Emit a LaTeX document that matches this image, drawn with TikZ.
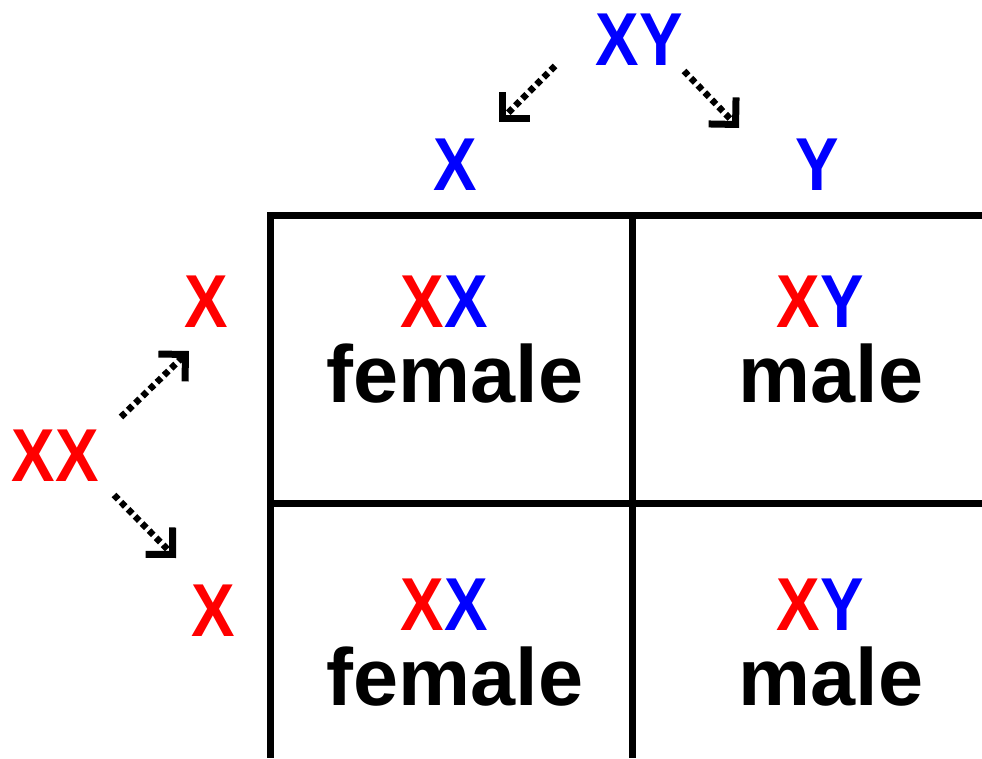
\documentclass[tikz,border=0pt]{standalone}
\usepackage{fontspec}
\usepackage{graphicx}
\setmainfont{Liberation Sans}
\usetikzlibrary{arrows.meta}
\definecolor{momred}{RGB}{255,0,0}
\definecolor{dadblue}{RGB}{0,0,255}
\newcommand{\gene}[1]{\scalebox{0.87}[1]{\fontsize{75}{75}\selectfont\bfseries #1}}
\newcommand{\mx}{{\color{momred}X}}
\newcommand{\dx}{{\color{dadblue}X}}
\newcommand{\dy}{{\color{dadblue}Y}}
\tikzset{
  allele/.style={inner sep=0pt, anchor=base},
  sexlabel/.style={inner sep=0pt, anchor=base, font=\fontsize{81}{81}\selectfont\bfseries},
  gridline/.style={line width=7pt},
  split/.style={line width=6.5pt, dash pattern=on 6pt off 4pt,
    -{Straight Barb[angle=90:27pt, line width=7pt, line cap=butt, line join=miter]}}
}
\begin{document}
\begin{tikzpicture}[x=1pt, y=-1pt]
\useasboundingbox (0,0) rectangle (982,758);

% Punnett grid (open on the right and bottom)
\draw[gridline] (982,215) -- (270,215) -- (270,758);
\draw[gridline] (632,215) -- (632,758);
\draw[gridline] (270,503) -- (982,503);

% father's genotype and gametes
\node[allele] (father) at (639,65) {\gene{\dx\dy}};
\node[allele] (fx) at (455,190) {\gene{\dx}};
\node[allele] (fy) at (817,190) {\gene{\dy}};

% mother's genotype and gametes
\node[allele] (mother) at (55,481) {\gene{\mx\mx}};
\node[allele] (mx1) at (206,327) {\gene{\mx}};
\node[allele] (mx2) at (213,636) {\gene{\mx}};

% arrows from parents to gametes
\coordinate (f1s) at (555,66);  \coordinate (f1e) at (499,122);
\coordinate (f2s) at (684,71);  \coordinate (f2e) at (739,128);
\coordinate (m1s) at (121,417); \coordinate (m1e) at (189,351);
\coordinate (m2s) at (114,495); \coordinate (m2e) at (176,558);
\draw[split] (f1s) -- (f1e);
\draw[split] (f2s) -- (f2e);
\draw[split] (m1s) -- (m1e);
\draw[split] (m2s) -- (m2e);

% offspring cells
\node[allele] (c11) at (444,327) {\gene{\mx\dx}};
\node[sexlabel] (s11) at (455,402) {female};
\node[allele] (c12) at (820,327) {\gene{\mx\dy}};
\node[sexlabel] (s12) at (831,402) {male};
\node[allele] (c21) at (444,630) {\gene{\mx\dx}};
\node[sexlabel] (s21) at (455,705) {female};
\node[allele] (c22) at (820,630) {\gene{\mx\dy}};
\node[sexlabel] (s22) at (831,705) {male};
\end{tikzpicture}
\end{document}
